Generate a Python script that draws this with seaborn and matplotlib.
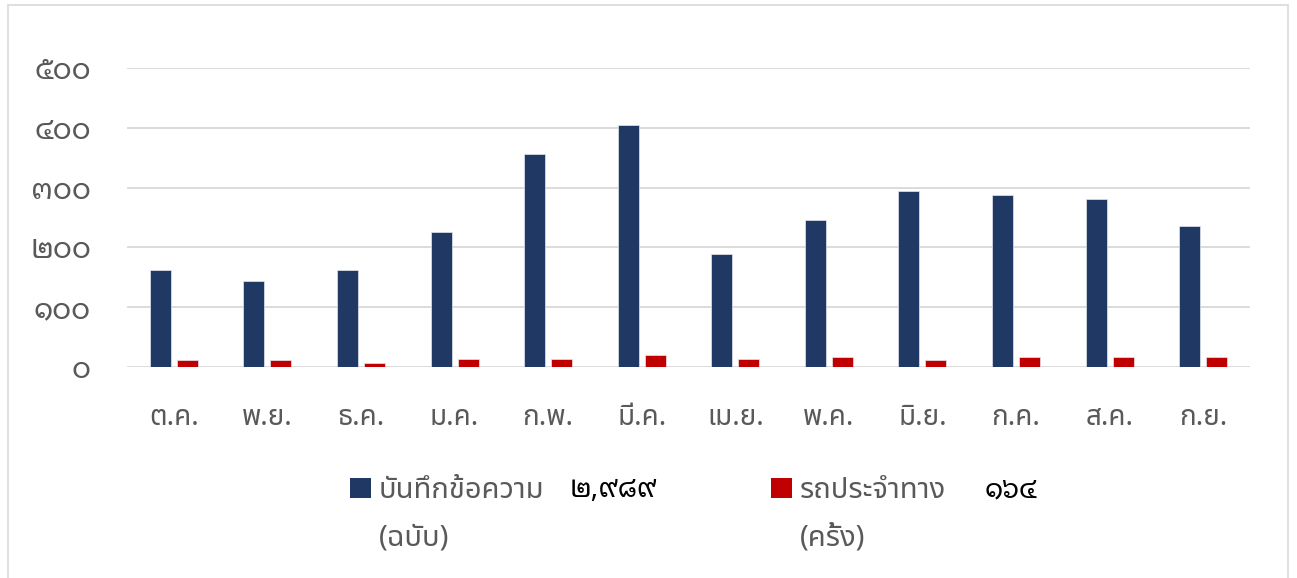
import matplotlib
matplotlib.use("Agg")
import pandas as pd
import matplotlib.pyplot as plt
import seaborn as sns
from matplotlib.patches import Rectangle

months = ["ต.ค.", "พ.ย.", "ธ.ค.", "ม.ค.", "ก.พ.", "มี.ค.", "เม.ย.", "พ.ค.", "มิ.ย.", "ก.ค.", "ส.ค.", "ก.ย."]
memos = [163, 143, 163, 225, 357, 405, 189, 246, 295, 287, 281, 235]
buses = [11, 11, 6, 13, 14, 20, 13, 16, 12, 16, 16, 16]

series_names = ["บันทึกข้อความ", "รถประจำทาง"]
series_units = ["(ฉบับ)", "(ครั้ง)"]
series_totals = ["๒,๙๘๙", "๑๖๔"]
yticks = [0, 100, 200, 300, 400, 500]
ytick_labels = ["๐", "๑๐๐", "๒๐๐", "๓๐๐", "๔๐๐", "๕๐๐"]

navy = "#203864"
red = "#C00000"
gray = "#595959"
thai = ["Noto Sans Thai", "DejaVu Sans"]
digits = ["Noto Sans Thai Looped", "DejaVu Sans"]

df = pd.DataFrame({
    "month": months * 2,
    "value": memos + buses,
    "series": [series_names[0]] * len(months) + [series_names[1]] * len(months),
})

sns.set_style("white")
plt.rcParams["font.family"] = thai

fig = plt.figure(figsize=(12.97, 5.78), dpi=100)
ax = fig.add_axes([127 / 1297, 1 - 367 / 578, (1250 - 127) / 1297, (367 - 68) / 578])

sns.barplot(data=df, x="month", y="value", hue="series", order=months,
            hue_order=series_names, palette=[navy, red], saturation=1,
            width=0.577, gap=0.22, edgecolor="#e3e6ee", linewidth=0.5,
            legend=False, ax=ax)

ax.set_ylim(0, 500)
ax.set_xlim(-0.5, len(months) - 0.5)
ax.set_yticks(yticks)
ax.set_yticklabels(ytick_labels, family=digits)
ax.yaxis.grid(True, color="#d9d9d9", linewidth=1.3)
ax.set_axisbelow(True)
for s in ax.spines.values():
    s.set_visible(False)
ax.set_xlabel("")
ax.set_ylabel("")
ax.tick_params(axis="y", length=0, pad=26, labelsize=21, labelcolor=gray)
ax.tick_params(axis="x", length=0, pad=26.5, labelsize=20, labelcolor=gray)

# chart area border
fig.patches.append(Rectangle((8 / 1297, -0.05), (1288 - 8) / 1297, 1.05 - 5 / 578,
                             transform=fig.transFigure, fill=False,
                             edgecolor="#d9d9d9", linewidth=1.2))

# legend
leg_x = [350, 771]
num_x = [570, 985]
for i, c in enumerate([navy, red]):
    fig.patches.append(Rectangle((leg_x[i] / 1297, 1 - 498 / 578), 21 / 1297, 20 / 578,
                                 transform=fig.transFigure, facecolor=c, edgecolor="none"))
    fig.text((leg_x[i] + 29) / 1297, 1 - 491 / 578, series_names[i], fontsize=21,
             color=gray, va="center", ha="left")
    fig.text((leg_x[i] + 29) / 1297, 1 - 538 / 578, series_units[i], fontsize=21,
             color=gray, va="center", ha="left")
    fig.text(num_x[i] / 1297, 1 - 490 / 578, series_totals[i], fontsize=20,
             color="black", va="center", ha="left", family=digits)

fig.savefig("out.png", dpi=100)
